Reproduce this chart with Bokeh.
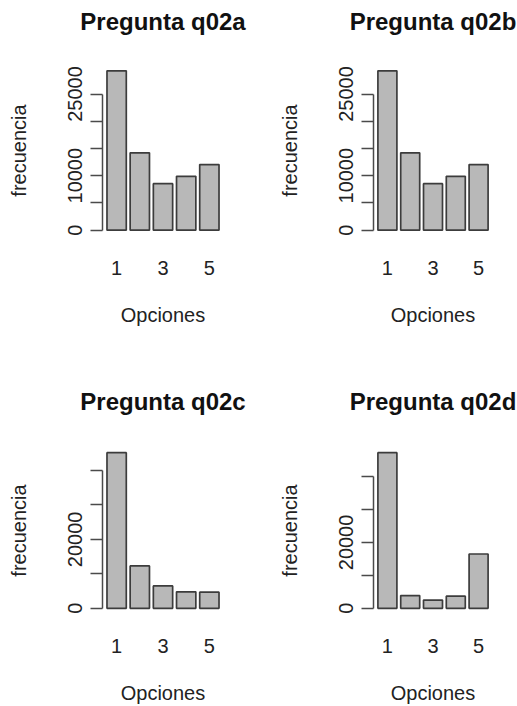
from bokeh.plotting import figure
from bokeh.models import Range1d, FixedTicker, Title
from bokeh.layouts import column, row
from bokeh.embed import file_html
from bokeh.resources import INLINE

# ---- data ----
opciones = ["1", "2", "3", "4", "5"]
shown_x_labels = ["1", "3", "5"]

titles = ["Pregunta q02a", "Pregunta q02b", "Pregunta q02c", "Pregunta q02d"]

q02a = [29250, 14200, 8540, 9890, 12040]
q02b = [29250, 14200, 8540, 9890, 12040]
q02c = [45140, 12290, 6480, 4760, 4680]
q02d = [47250, 3870, 2480, 3670, 16480]

ticks_top = [0, 5000, 10000, 15000, 20000, 25000]
labels_top = ["0", "", "10000", "", "", "25000"]
ticks_bottom = [0, 10000, 20000, 30000, 40000]
labels_bottom = ["0", "", "20000", "", ""]

FONT = "Liberation Sans"
BAR_FILL = "#b8b8b8"
BAR_LINE = "#3c3c3c"
AXIS_COL = "#4a4a4a"


def make_panel(title, values, ticks, tick_labels, width, height,
               bl, br, bt, bb, spacer_px):
    n = len(values)
    # R barplot geometry: width 1, space 0.2
    centers = [0.2 + i * 1.2 + 0.5 for i in range(n)]
    xl, xr = 0.2, centers[-1] + 0.5
    pad = 0.04 * (xr - xl)
    ymax = max(values)
    p = figure(width=width, height=height, output_backend="svg",
               toolbar_location=None, tools="", title=None,
               x_range=Range1d(xl - pad, xr + pad),
               y_range=Range1d(-0.04 * ymax, 1.04 * ymax),
               min_border_left=bl, min_border_right=br,
               min_border_top=bt, min_border_bottom=bb)
    p.outline_line_color = None
    p.background_fill_color = "white"
    p.border_fill_color = "white"
    p.grid.visible = False

    p.vbar(x=centers, top=values, bottom=0, width=1.0,
           fill_color=BAR_FILL, line_color=BAR_LINE, line_width=1.7)

    # spacer between frame and title, then the title itself
    p.add_layout(Title(text=" ", text_font=FONT, text_font_size=spacer_px,
                       standoff=0), "above")
    p.add_layout(Title(text=title, align="center", text_font=FONT,
                       text_font_size="24px", text_font_style="bold",
                       text_color="#111111", standoff=0), "above")

    # y axis
    ya = p.yaxis[0]
    ya.ticker = FixedTicker(ticks=ticks)
    ya.major_label_overrides = {t: l for t, l in zip(ticks, tick_labels)}
    ya.bounds = (ticks[0], ticks[-1])
    ya.minor_tick_line_color = None
    ya.major_tick_in = 0
    ya.major_tick_out = 12
    ya.major_tick_line_color = AXIS_COL
    ya.major_tick_line_width = 1.5
    ya.axis_line_color = AXIS_COL
    ya.axis_line_width = 1.5
    ya.major_label_orientation = "vertical"
    ya.major_label_standoff = 8
    ya.major_label_text_font = FONT
    ya.major_label_text_font_size = "20px"
    ya.major_label_text_color = "#222222"
    ya.axis_label = "frecuencia"
    ya.axis_label_text_font = FONT
    ya.axis_label_text_font_size = "20px"
    ya.axis_label_text_font_style = "normal"
    ya.axis_label_text_color = "#222222"
    ya.axis_label_standoff = 36

    # x axis (bar names only, as in R)
    xa = p.xaxis[0]
    shown_pos = [centers[opciones.index(s)] for s in shown_x_labels]
    xa.ticker = FixedTicker(ticks=shown_pos)
    xa.major_label_overrides = {c: s for c, s in zip(shown_pos, shown_x_labels)}
    xa.axis_line_color = None
    xa.major_tick_line_color = None
    xa.minor_tick_line_color = None
    xa.major_label_standoff = 18
    xa.major_label_text_font = FONT
    xa.major_label_text_font_size = "20px"
    xa.major_label_text_color = "#222222"
    xa.axis_label = "Opciones"
    xa.axis_label_text_font = FONT
    xa.axis_label_text_font_size = "20px"
    xa.axis_label_text_font_style = "normal"
    xa.axis_label_text_color = "#222222"
    xa.axis_label_standoff = 26
    return p


p1 = make_panel(titles[0], q02a, ticks_top, labels_top, 270, 380, 102, 47, 64, 144, "25px")
p2 = make_panel(titles[1], q02b, ticks_top, labels_top, 247, 380, 103, 25, 64, 144, "25px")
p3 = make_panel(titles[2], q02c, ticks_bottom, labels_bottom, 270, 326, 102, 47, 66, 89, "26px")
p4 = make_panel(titles[3], q02d, ticks_bottom, labels_bottom, 247, 326, 103, 25, 66, 89, "26px")

layout = column(row(p1, p2), row(p3, p4))

open("out.html", "w").write(file_html(layout, INLINE))
